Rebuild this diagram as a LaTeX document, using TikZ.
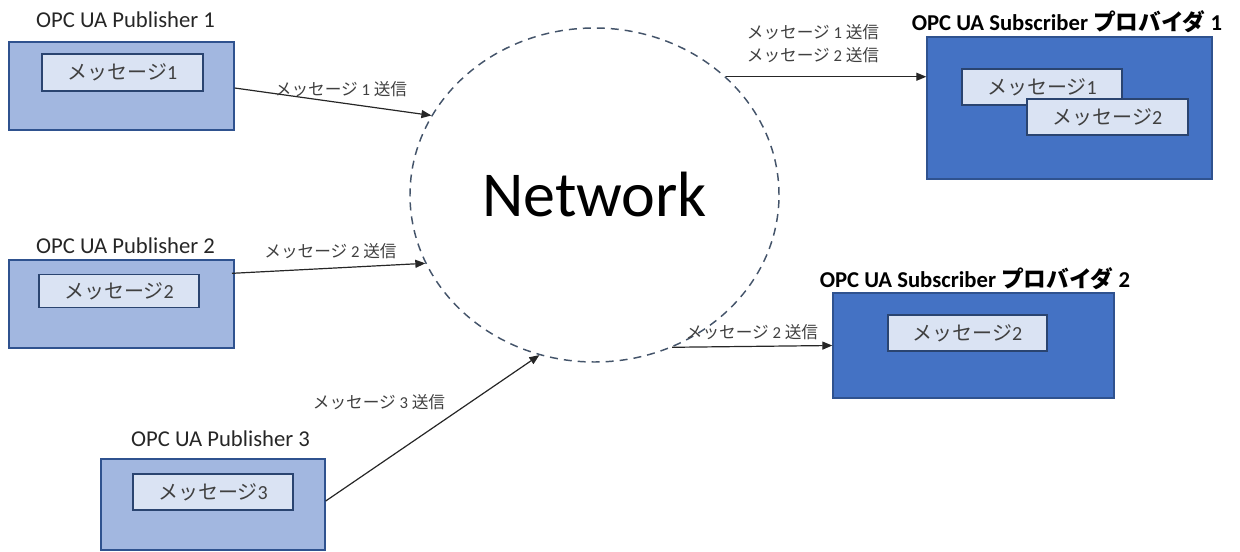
\documentclass[tikz,border=0pt]{standalone}
\usepackage{fontspec}
\setmainfont{Carlito}
\newfontfamily\jpfont{Noto Sans CJK JP}
\usetikzlibrary{arrows.meta,shapes.geometric}
\definecolor{pubfill}{HTML}{A2B7E0}
\definecolor{boxline}{HTML}{2F528F}
\definecolor{msgline}{HTML}{2A4470}
\definecolor{msgfill}{HTML}{DAE3F3}
\definecolor{subfill}{HTML}{4472C4}
\definecolor{netline}{HTML}{44546A}
\definecolor{txt}{HTML}{404040}
\newcommand\jtext[1]{{\jpfont #1}}
\begin{document}
\begin{tikzpicture}[x=0.75pt,y=-0.75pt,
  wh/.style 2 args={minimum width={(#1)*0.75pt},minimum height={(#2)*0.75pt}},
  pubbox/.style={draw=boxline,fill=pubfill,line width=1pt,inner sep=0pt},
  subbox/.style={draw=boxline,fill=subfill,line width=1pt,inner sep=0pt},
  msgbox/.style={draw=msgline,fill=msgfill,line width=0.9pt,inner sep=0pt,
    text=txt,font=\fontsize{15}{18}\selectfont},
  title/.style={font=\fontsize{17}{20}\selectfont,text=black!85,inner sep=0pt},
  subtitle/.style={font=\fontsize{17}{20}\selectfont\bfseries,text=black,inner sep=0pt},
  msglabel/.style={font=\fontsize{12.5}{17.25}\selectfont,text=txt,inner sep=0pt,align=center},
  netnode/.style={ellipse,draw=netline,line width=1.1pt,dash pattern=on 6pt off 4.5pt,
    inner sep=0pt,font=\fontsize{48}{56}\selectfont},
  arr/.style={-{Triangle[length=7.5pt,width=6pt]},line width=0.9pt,black!85},
]
\useasboundingbox (0,0) rectangle (1240,552);

% network cloud
\node[netnode,wh={369}{334}] (net) at (594.5,195) {Network};

% publishers
\node[pubbox,wh={225}{88}] (pub1) at (121.5,86) {};
\node[msgbox,wh={161}{37}] (pub1m) at (122.5,72.5) {\jtext{メッセージ}1};
\node[title] (pub1t) at (125.5,20) {OPC UA Publisher 1};

\node[pubbox,wh={225}{88}] (pub2) at (121.5,304) {};
\node[msgbox,wh={160}{33}] (pub2m) at (119,291) {\jtext{メッセージ}2};
\node[title] (pub2t) at (125.5,246) {OPC UA Publisher 2};

\node[pubbox,wh={224}{91}] (pub3) at (213,504.5) {};
\node[msgbox,wh={160}{36}] (pub3m) at (213,492) {\jtext{メッセージ}3};
\node[title] (pub3t) at (220.5,439) {OPC UA Publisher 3};

% subscribers
\node[subbox,wh={285}{142}] (sub1) at (1069.5,108) {};
\node[msgbox,wh={160}{36}] (sub1a) at (1042,87) {\jtext{メッセージ}1};
\node[msgbox,wh={161}{36}] (sub1b) at (1107.5,117) {\jtext{メッセージ}2};
\node[subtitle] (sub1t) at (1067,22) {OPC UA Subscriber \jtext{プロバイダ} 1};

\node[subbox,wh={281}{105}] (sub2) at (973.5,345.5) {};
\node[msgbox,wh={159}{36}] (sub2m) at (967.5,333) {\jtext{メッセージ}2};
\node[subtitle] (sub2t) at (975,278.5) {OPC UA Subscriber \jtext{プロバイダ} 2};

% connectors
\draw[arr] ([yshift=-1.5pt]pub1.east) -- (net.154);
\draw[arr] ([yshift=23pt,xshift=-2pt]pub2.east) -- (net.202.5);
\draw[arr] ([yshift=2.6pt]pub3.east) -- (net.251);
\draw[arr] (net.42) -- (net.42 -| sub1.west);
\draw[arr] (net.297) -- (sub2.west);

% connector labels
\node[msglabel] (l1) at (341,89.5) {\jtext{メッセージ} 1 \jtext{送信}};
\node[msglabel] (l2) at (330.5,251) {\jtext{メッセージ} 2 \jtext{送信}};
\node[msglabel] (l3) at (379,402) {\jtext{メッセージ} 3 \jtext{送信}};
\node[msglabel] (l4) at (813,43.5) {\jtext{メッセージ} 1 \jtext{送信}\\\jtext{メッセージ} 2 \jtext{送信}};
\node[msglabel] (l5) at (752,332) {\jtext{メッセージ} 2 \jtext{送信}};
\end{tikzpicture}
\end{document}
